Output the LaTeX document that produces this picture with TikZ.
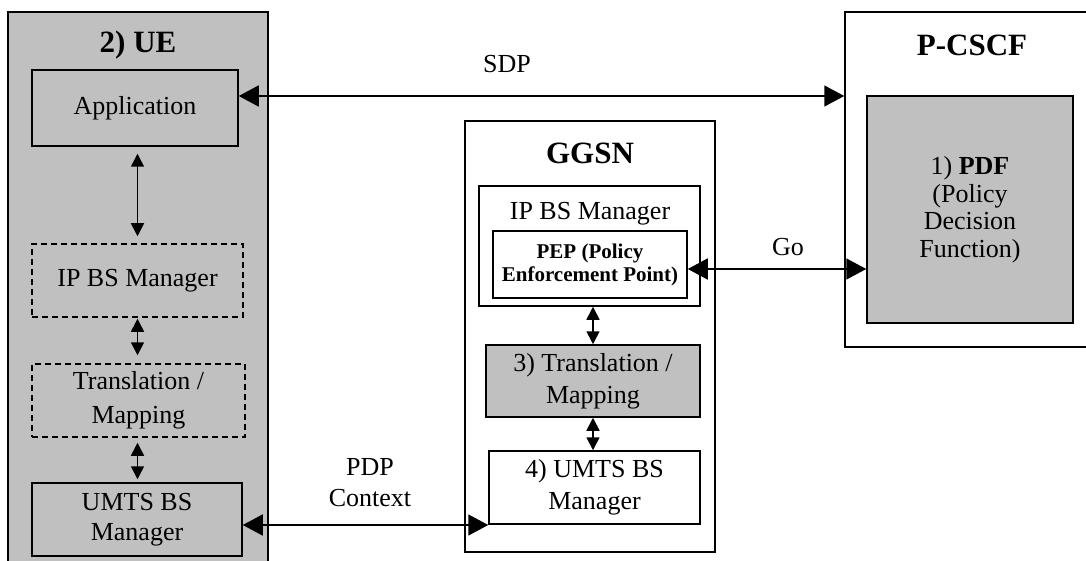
\documentclass[tikz,border=0pt]{standalone}
\usepackage{fontspec}
\setmainfont{Liberation Serif}
\usetikzlibrary{arrows.meta}
\definecolor{boxgray}{RGB}{192,192,192}
\tikzset{
  box/.style={draw=black, line width=0.75pt, inner sep=0pt, align=center,
    font=\fontsize{13}{16}\selectfont, rectangle},
  graybox/.style={box, fill=boxgray},
  whitebox/.style={box, fill=white},
  dashbox/.style={graybox, dash pattern=on 3pt off 2pt},
  titletext/.style={font=\fontsize{15.5}{18}\selectfont\bfseries, inner sep=0pt},
  bodytext/.style={font=\fontsize{13}{15.5}\selectfont, inner sep=0pt, align=center},
  bigarrow/.style={line width=0.8pt, {Triangle[length=10pt,width=10.5pt]}-{Triangle[length=10pt,width=10.5pt]}},
  smallarrow/.style={line width=0.8pt, {Triangle[length=6.5pt,width=6.5pt]}-{Triangle[length=6.5pt,width=6.5pt]}},
}
\begin{document}
\begin{tikzpicture}[x=0.5pt,y=-0.5pt]
\useasboundingbox (0,0) rectangle (1086,561);
\clip (0,0) rectangle (1086,561);
\fill[white] (0,0) rectangle (1086,561);

% UE
\node[graybox, minimum width=130pt, minimum height=294pt] (ue) at (138,306) {};
\node[titletext] (uetitle) at (138,45) {2) UE};
\node[graybox, minimum width=103pt, minimum height=38pt] (app) at (135,108) {Application};
\node[dashbox, minimum width=105.5pt, minimum height=36.5pt] (uipbs) at (137.5,280.5) {IP BS Manager};
\node[dashbox, minimum width=106.5pt, minimum height=36.5pt, font=\fontsize{13}{17}\selectfont] (utrans) at (138.5,400.5) {Translation /\\Mapping};
\node[graybox, minimum width=105pt, minimum height=36.5pt, font=\fontsize{13}{15}\selectfont] (uumts) at (137,519.5) {UMTS BS\\Manager};

% GGSN
\node[whitebox, minimum width=125pt, minimum height=215.5pt] (ggsn) at (590,336.5) {};
\node[titletext] (ggsntitle) at (590,153) {GGSN};
\node[whitebox, minimum width=110.5pt, minimum height=60pt] (gipbs) at (589.5,246) {};
\node[bodytext] (gipbslabel) at (590,214) {IP BS Manager};
\node[whitebox, minimum width=97pt, minimum height=33.5pt, font=\fontsize{10.5}{11.5}\selectfont\bfseries] (pep) at (590,264.5) {PEP (Policy\\Enforcement Point)};
\node[graybox, minimum width=107pt, minimum height=36pt] (gtrans) at (593,381) {3) Translation /\\Mapping};
\node[whitebox, minimum width=105.5pt, minimum height=36.5pt] (gumts) at (594.5,487.5) {4) UMTS BS\\Manager};

% P-CSCF
\node[whitebox, minimum width=137.5pt, minimum height=167.5pt] (pcscf) at (982.5,179.5) {};
\node[titletext] (pcscftitle) at (972,45) {P-CSCF};
\node[graybox, minimum width=103pt, minimum height=113.5pt, font=\fontsize{13}{13.75}\selectfont] (pdf) at (970,209.5) {1) \textbf{PDF}\\(Policy\\Decision\\Function)};

% labels
\node[bodytext] (sdp) at (507,64) {SDP};
\node[bodytext] (go) at (788,247) {Go};
\node[bodytext] (pdp) at (370,483) {PDP\\Context};

% connectors
\draw[bigarrow] (app.east |- 0,96) -- (pcscf.west |- 0,96);
\draw[bigarrow] (pep.east |- 0,269) -- (pdf.west |- 0,269);
\draw[bigarrow] (uumts.east |- 0,525) -- (gumts.west |- 0,525);

\draw[smallarrow, shorten <=3.5pt, shorten >=3.5pt] (uipbs.north |- app.south) -- (uipbs.north);
\draw[smallarrow, shorten <=0.5pt, shorten >=4pt] (uipbs.south) -- (uipbs.south |- utrans.north);
\draw[smallarrow, shorten <=2.5pt, shorten >=1.5pt] (uipbs.south |- utrans.south) -- (uipbs.south |- uumts.north);

\draw[smallarrow] (gtrans.north |- gipbs.south) -- (gtrans.north);
\draw[smallarrow] (gtrans.south) -- (gtrans.south |- gumts.north);
\end{tikzpicture}
\end{document}
